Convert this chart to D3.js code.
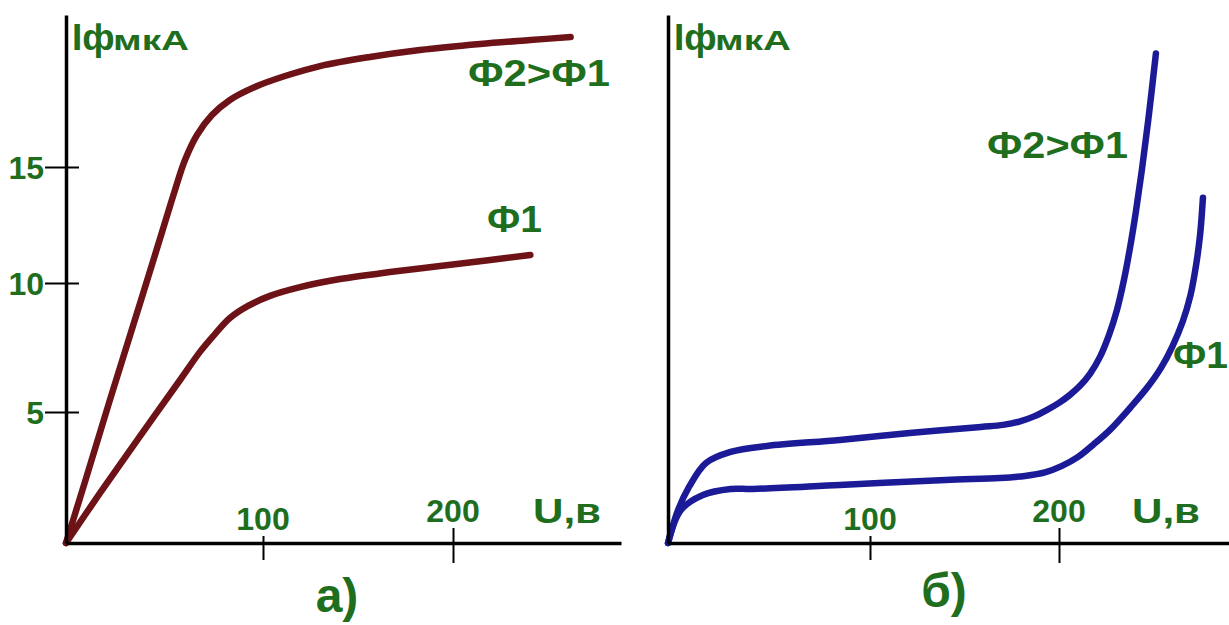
<!DOCTYPE html>
<html>
<head>
<meta charset="utf-8">
<script src="https://cdn.jsdelivr.net/npm/d3@7"></script>
<style>
body { margin: 0; background: #fff; }
text { font-family: "Liberation Sans", Arial, sans-serif; font-weight: bold; fill: #1e6e1e; }
</style>
</head>
<body>
<div id="app"></div>
<script>
// panel a) - vacuum photocell, I (мкА) vs U (в)
const uA_F2 = [0, 9.9, 22.3, 38.1, 47.5, 55.3, 60.4, 66.5, 74.1, 83.2, 95.9, 111.6, 130, 156.3, 182.6, 214.2, 240.5, 261.6];
const iA_F2 = [0, 2.4, 5.47, 9.34, 11.85, 14.0, 15.3, 16.38, 17.24, 17.89, 18.45, 18.92, 19.35, 19.74, 20.04, 20.3, 20.47, 20.6];
const uA_F1 = [0, 17.3, 37.6, 57.9, 68, 75.6, 83.2, 92.4, 103.7, 119.5, 140.5, 166.8, 193.2, 219.5, 240.5];
const iA_F1 = [0, 1.91, 4.08, 6.24, 7.33, 8.02, 8.64, 9.11, 9.5, 9.84, 10.17, 10.47, 10.73, 10.99, 11.21];

// panel б) - gas-filled photocell
const uB_F2 = [0, 5, 10.4, 18.8, 31, 49, 85, 121, 158.7, 170.4, 179.4, 186.8, 193.7, 200, 205.8, 211.1, 216.4, 221.7, 226.5, 230.7, 234.4, 237.6, 240.7, 243.9, 247.6, 251.3];
const iB_F2 = [0, 1.32, 2.24, 3.2, 3.64, 3.88, 4.12, 4.4, 4.64, 4.72, 4.86, 5.06, 5.32, 5.6, 5.92, 6.28, 6.76, 7.44, 8.32, 9.32, 10.52, 11.8, 13.24, 14.92, 17.12, 19.56];
const uB_F1 = [0, 6.4, 17.3, 31, 42, 85, 140, 168.8, 182, 192.6, 201.6, 210.1, 218, 227, 238.1, 246.6, 254, 260, 265.5, 269.6, 272.6, 274.7, 276.2];
const iB_F1 = [0, 1.32, 1.92, 2.16, 2.16, 2.32, 2.52, 2.6, 2.68, 2.82, 3.08, 3.44, 3.92, 4.52, 5.44, 6.2, 7.0, 7.85, 8.85, 9.9, 11.12, 12.32, 13.8];

const xTicks = [100, 200];
const yTicksA = [5, 10, 15];
const seriesNames = ["Ф2>Ф1", "Ф1"];
const panelNames = ["а)", "б)"];

const W = 1229, H = 625;
const svg = d3.select("#app").append("svg").attr("width", W).attr("height", H);

// hand-drawn axes are not quite uniform, hence the piecewise scales
const xA = d3.scaleLinear().domain([0, 100, 200, 288]).range([66, 263, 453, 621]);
const yA = d3.scaleLinear().domain([0, 5, 10, 15, 21.55]).range([543, 412, 283, 167, 15]);
const xB = d3.scaleLinear().domain([0, 100, 200, 290]).range([668, 870, 1059, 1229]);
const yB = d3.scaleLinear().domain([0, 21.1]).range([543, 15]);

const zip = (u, i) => u.map((v, k) => [v, i[k]]);

const drawAxes = function(x, y, yTicks){
    svg.append("g")
        .attr("transform", `translate(0,${y(0)})`)
        .call(d3.axisBottom(x).tickValues(xTicks).tickSize(18).tickSizeOuter(0).tickFormat(""))
        .call(g => g.select(".domain").attr("stroke", "#000").attr("stroke-width", 3.5))
        .call(g => g.selectAll(".tick line")
            .attr("stroke", "#000").attr("stroke-width", 2)
            .attr("y1", (d, k) => k ? -15 : -7)
            .attr("y2", (d, k) => k ? 20 : 17));

    svg.append("g")
        .attr("transform", `translate(${x(0)},0)`)
        .call(d3.axisLeft(y).tickValues(yTicks).tickSize(21).tickSizeOuter(0).tickFormat(""))
        .call(g => g.select(".domain").attr("stroke", "#000").attr("stroke-width", 3.5))
        .call(g => g.selectAll(".tick line")
            .attr("stroke", "#000").attr("stroke-width", 2)
            .attr("x1", 13));

    svg.selectAll(null)
        .data(xTicks)
        .join("text")
        .attr("x", d => x(d))
        .attr("y", (d, k) => y(0) - (k ? 21 : 13))
        .attr("text-anchor", "middle")
        .attr("font-size", 32)
        .text(d => d);

    svg.selectAll(null)
        .data(yTicks)
        .join("text")
        .attr("x", x(0) - 22)
        .attr("y", d => y(d))
        .attr("dy", "0.36em")
        .attr("text-anchor", "end")
        .attr("font-size", 32)
        .text(d => d);

    // axis titles; the source lettering is wider than the font, so stretch it
    svg.append("text")
        .attr("x", x(0) + 6)
        .attr("y", 50)
        .attr("font-size", 37)
        .text("Iф");
    svg.append("text")
        .attr("x", x(0) + 47)
        .attr("y", 50)
        .attr("font-size", 27)
        .attr("textLength", 76)
        .attr("lengthAdjust", "spacingAndGlyphs")
        .text("мкА");

    svg.append("text")
        .attr("x", x(0) + (x === xA ? 467 : 464))
        .attr("y", y(0) - 20)
        .attr("font-size", 35)
        .attr("textLength", 68)
        .attr("lengthAdjust", "spacingAndGlyphs")
        .text("U,в");
};

const drawCurves = function(x, y, data, colour){
    const line = d3.line()
        .x(d => x(d[0]))
        .y(d => y(d[1]))
        .curve(d3.curveCatmullRom.alpha(0.5));

    svg.selectAll(null)
        .data(data)
        .join("path")
        .attr("d", line)
        .attr("fill", "none")
        .attr("stroke", colour)
        .attr("stroke-width", 6.5)
        .attr("stroke-linecap", "round")
        .attr("stroke-linejoin", "round");
};

drawCurves(xA, yA, [zip(uA_F2, iA_F2), zip(uA_F1, iA_F1)], "#6d1216");
drawCurves(xB, yB, [zip(uB_F2, iB_F2), zip(uB_F1, iB_F1)], "#1b1b97");
drawAxes(xA, yA, yTicksA);
drawAxes(xB, yB, []);

// curve labels
const label = (x, y, text, width) => svg.append("text")
    .attr("x", x).attr("y", y)
    .attr("font-size", 36)
    .attr("textLength", width)
    .attr("lengthAdjust", "spacingAndGlyphs")
    .text(text);
label(468, 86, seriesNames[0], 142);
label(487, 232, seriesNames[1], 55);
label(987, 158, seriesNames[0], 141);
label(1173, 368, seriesNames[1], 55);

// panel letters
svg.append("text").attr("x", 337).attr("y", 612).attr("text-anchor", "middle").attr("font-size", 48).text(panelNames[0]);
svg.append("text").attr("x", 944).attr("y", 607).attr("text-anchor", "middle").attr("font-size", 48).text(panelNames[1]);
</script>
</body>
</html>
